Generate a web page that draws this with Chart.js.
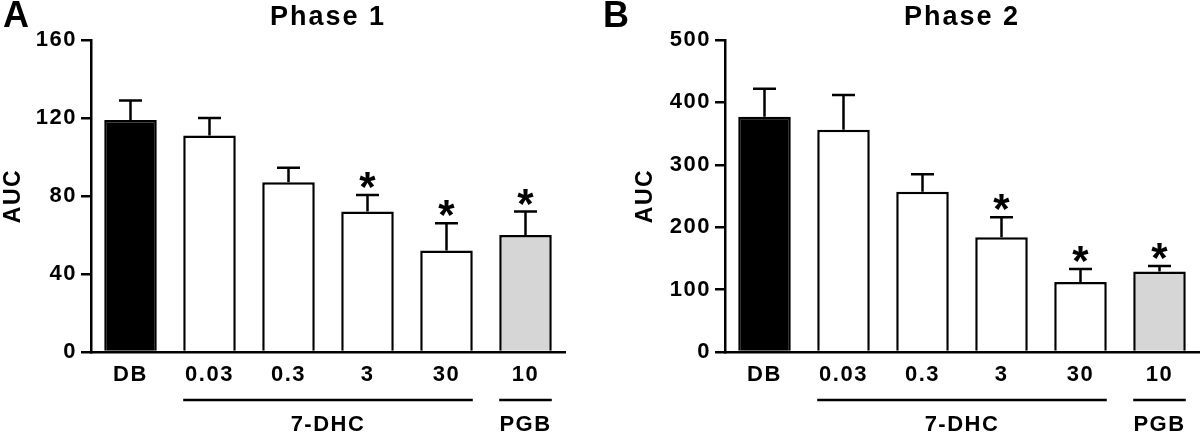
<!DOCTYPE html>
<html>
<head>
<meta charset="utf-8">
<script src="https://cdn.jsdelivr.net/npm/chart.js@4.4.1/dist/chart.umd.min.js"></script>
<style>
  html, body { margin: 0; padding: 0; background: #fff; }
  #wrap { display: flex; width: 1200px; height: 438px; }
  .panel { position: relative; width: 600px; height: 438px; }
</style>
</head>
<body>
<div id="wrap">
  <div class="panel"><canvas id="phase1" width="600" height="438"></canvas></div>
  <div class="panel"><canvas id="phase2" width="600" height="438"></canvas></div>
</div>
<script>
// values (mean AUC and upper SEM)
const doses = ['DB', '0.03', '0.3', '3', '30', '10'];
const phase1Auc = [119, 111, 87, 72, 52, 60];
const phase1Sem = [10, 9, 7.5, 8.5, 14, 12];
const phase2Auc = [377, 356, 257, 184, 112, 129];
const phase2Sem = [45, 56, 28, 32, 21, 9];
const significant = [false, false, false, true, true, true];
const phase1Ticks = [0, 40, 80, 120, 160];
const phase2Ticks = [0, 100, 200, 300, 400, 500];
const drugNames = ['7-DHC', 'PGB'];
const drugFirst = [1, 5];
const drugLast = [4, 5];
const barColors = ['#000000', '#ffffff', '#ffffff', '#ffffff', '#ffffff', '#d6d6d6'];

const FONT = '"Liberation Sans", Arial, sans-serif';

// the original lettering is a bit wider than plain Arial
const spacingPlugin = {
  id: 'spacing',
  beforeDraw(chart) { chart.ctx.letterSpacing = '1.5px'; }
};

// error bars, asterisks, drug group lines, titles
const extrasPlugin = {
  id: 'extras',
  afterDatasetsDraw(chart, args, opts) {
    const ctx = chart.ctx;
    const y = chart.scales.y;
    const meta = chart.getDatasetMeta(0);
    const means = chart.data.datasets[0].data;
    ctx.save();
    ctx.strokeStyle = '#000';
    ctx.fillStyle = '#000';
    ctx.lineWidth = 2.5;
    meta.data.forEach((bar, i) => {
      const top = y.getPixelForValue(means[i] + opts.sem[i]);
      ctx.beginPath();
      ctx.moveTo(bar.x, bar.y);
      ctx.lineTo(bar.x, top);
      ctx.moveTo(bar.x - 11.5, top);
      ctx.lineTo(bar.x + 11.5, top);
      ctx.stroke();
      if (significant[i]) {
        ctx.letterSpacing = '0px';
        ctx.font = 'bold 42px ' + FONT;
        ctx.textAlign = 'center';
        ctx.textBaseline = 'alphabetic';
        ctx.fillText('*', bar.x, top + 6);
      }
    });

    // group lines under the dose labels
    ctx.letterSpacing = '1.5px';
    ctx.font = 'bold 22px ' + FONT;
    ctx.textAlign = 'center';
    ctx.textBaseline = 'middle';
    drugNames.forEach((name, g) => {
      const a = meta.data[drugFirst[g]];
      const b = meta.data[drugLast[g]];
      const x0 = a.x - a.width / 2;
      const x1 = b.x + b.width / 2;
      ctx.beginPath();
      ctx.moveTo(x0, 400);
      ctx.lineTo(x1, 400);
      ctx.stroke();
      ctx.fillText(name, (x0 + x1) / 2, 425);
    });

    const area = chart.chartArea;
    ctx.letterSpacing = '2px';
    ctx.font = 'bold 27px ' + FONT;
    ctx.fillText(opts.title, (area.left + area.right) / 2, 18);
    ctx.letterSpacing = '0px';
    ctx.font = 'bold 36px ' + FONT;
    ctx.textAlign = 'left';
    ctx.fillText(opts.letter, 3, 17);
    ctx.restore();
  }
};

function makeChart(id, values, sem, ticks, yWidth, titlePad, rightPad, title, letter) {
  return new Chart(document.getElementById(id), {
    type: 'bar',
    data: {
      labels: doses,
      datasets: [{
        data: values,
        backgroundColor: barColors,
        borderColor: '#000',
        borderWidth: 2.5,
        barPercentage: 0.665,
        categoryPercentage: 1
      }]
    },
    options: {
      responsive: false,
      animation: false,
      devicePixelRatio: 1,
      layout: { padding: { top: 40, right: rightPad, left: 0, bottom: 0 } },
      plugins: {
        legend: { display: false },
        tooltip: { enabled: false },
        extras: { sem: sem, title: title, letter: letter }
      },
      scales: {
        x: {
          grid: { display: false, drawTicks: false },
          border: { display: true, color: '#000', width: 2.5 },
          ticks: { color: '#000', padding: 10, font: { family: FONT, size: 22, weight: 'bold' } },
          afterFit(scale) { scale.height = 86; }
        },
        y: {
          min: ticks[0],
          max: ticks[ticks.length - 1],
          afterBuildTicks(scale) { scale.ticks = ticks.map(v => ({ value: v })); },
          grid: { display: true, drawOnChartArea: false, drawTicks: true, tickLength: 10, color: '#000', lineWidth: 2.5 },
          border: { display: true, color: '#000', width: 2.5 },
          ticks: { color: '#000', padding: 4, font: { family: FONT, size: 22, weight: 'bold' } },
          title: {
            display: true, text: 'AUC', color: '#000',
            padding: { top: titlePad, bottom: 0 },
            font: { family: FONT, size: 23, weight: 'bold' }
          },
          afterFit(scale) { scale.width = yWidth; }
        }
      }
    },
    plugins: [spacingPlugin, extrasPlugin]
  });
}

makeChart('phase1', phase1Auc, phase1Sem, phase1Ticks, 91, 0, 35, 'Phase 1', 'A');
makeChart('phase2', phase2Auc, phase2Sem, phase2Ticks, 125, 32, 1, 'Phase 2', 'B');
</script>
</body>
</html>
